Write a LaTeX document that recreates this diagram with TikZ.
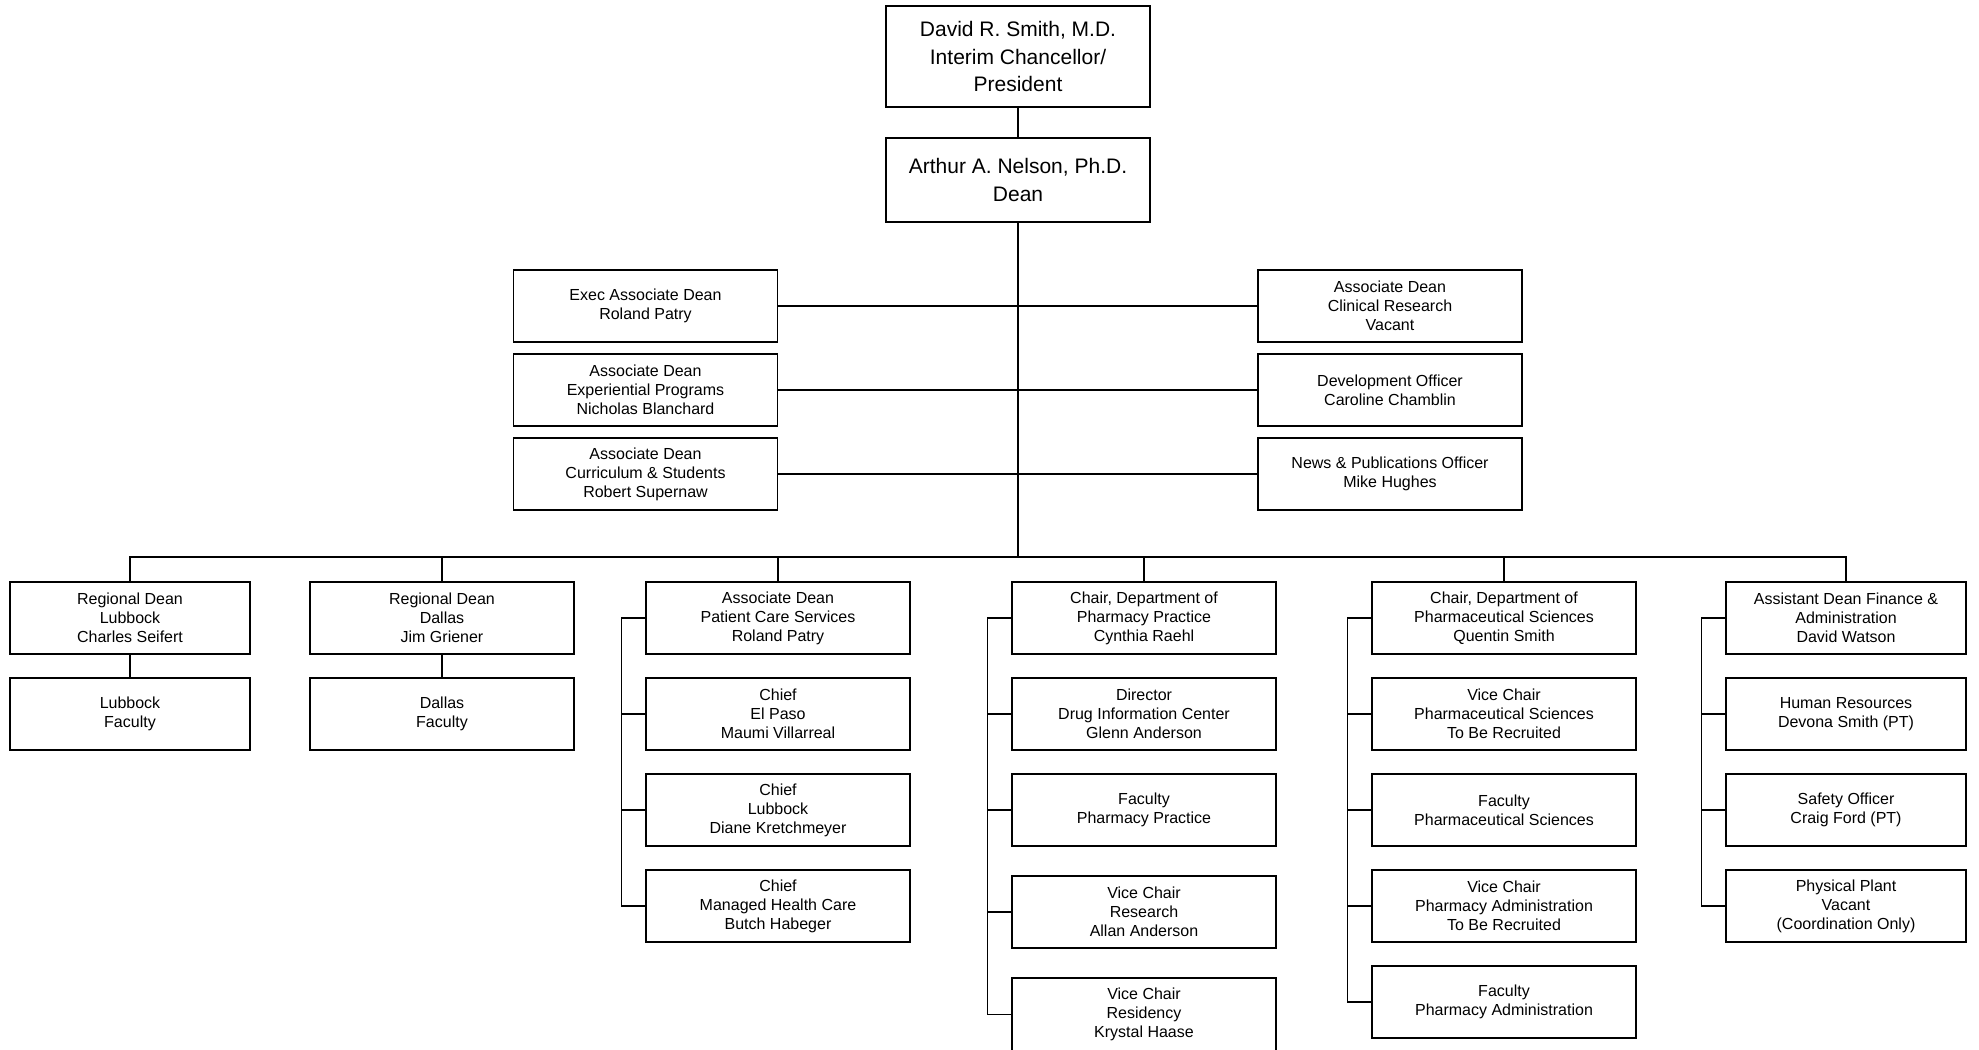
\documentclass[tikz,border=0pt]{standalone}
\usepackage{fontspec}
\setmainfont{Liberation Sans}
\begin{document}
\begin{tikzpicture}[x=0.5pt,y=-0.5pt,
  box/.style={draw, line width=0.6pt, align=center, inner sep=0pt, minimum width=132pt, minimum height=36pt, font=\fontsize{8}{9.5}\selectfont},
  narrow/.style={box, minimum width=120pt},
  big/.style={box, font=\fontsize{10.5}{13.9}\selectfont},
  link/.style={line width=0.6pt}]
\useasboundingbox (0,0) rectangle (1979,1049);
\node[big, minimum height=50.5pt] (pres) at (1018,56.5) {David R. Smith, M.D.\\Interim Chancellor/\\President};
\node[big, minimum height=42pt] (dean) at (1018,180) {Arthur A. Nelson, Ph.D.\\Dean};
\node[box] (exec) at (645.5,306) {Exec Associate Dean\\Roland Patry};
\node[box] (exper) at (645.5,390) {Associate Dean\\Experiential Programs\\Nicholas Blanchard};
\node[box] (curr) at (645.5,474) {Associate Dean\\Curriculum \& Students\\Robert Supernaw};
\node[box] (clin) at (1390,306) {Associate Dean\\Clinical Research\\Vacant};
\node[box] (devel) at (1390,390) {Development Officer\\Caroline Chamblin};
\node[box] (news) at (1390,474) {News \& Publications Officer\\Mike Hughes};
\coordinate (bus) at (1018,557);
\node[narrow] (rdl) at (130,618) {Regional Dean\\Lubbock\\Charles Seifert};
\node[narrow] (facl) at (130,714) {Lubbock\\Faculty};
\node[box] (rdd) at (442,618) {Regional Dean\\Dallas\\Jim Griener};
\node[box] (facd) at (442,714) {Dallas\\Faculty};
\node[box] (pcs) at (778,618) {Associate Dean\\Patient Care Services\\Roland Patry};
\node[box] (chep) at (778,714) {Chief\\El Paso\\Maumi Villarreal};
\node[box] (chlb) at (778,810) {Chief\\Lubbock\\Diane Kretchmeyer};
\node[box] (chmh) at (778,906) {Chief\\Managed Health Care\\Butch Habeger};
\node[box] (ppr) at (1144,618) {Chair, Department of\\Pharmacy Practice\\Cynthia Raehl};
\node[box] (dic) at (1144,714) {Director\\Drug Information Center\\Glenn Anderson};
\node[box] (facpp) at (1144,810) {Faculty\\Pharmacy Practice};
\node[box] (vcres) at (1144,912) {Vice Chair\\Research\\Allan Anderson};
\node[box, minimum height=36.5pt] (vcresi) at (1144,1014.5) {Vice Chair\\Residency\\Krystal Haase};
\node[box] (psc) at (1504,618) {Chair, Department of\\Pharmaceutical Sciences\\Quentin Smith};
\node[box] (vcps) at (1504,714) {Vice Chair\\Pharmaceutical Sciences\\To Be Recruited};
\node[box] (facps) at (1504,810) {Faculty\\Pharmaceutical Sciences};
\node[box] (vcpa) at (1504,906) {Vice Chair\\Pharmacy Administration\\To Be Recruited};
\node[box] (facpa) at (1504,1002) {Faculty\\Pharmacy Administration};
\node[narrow] (fin) at (1846,618) {Assistant Dean Finance \&\\Administration\\David Watson};
\node[narrow] (hr) at (1846,714) {Human Resources\\Devona Smith (PT)};
\node[narrow] (safe) at (1846,810) {Safety Officer\\Craig Ford (PT)};
\node[narrow] (plant) at (1846,906) {Physical Plant\\Vacant\\(Coordination Only)};
\draw[link] (pres) -- (dean);
\draw[link] (dean) -- (bus);
\draw[link] (exec) -- (clin);
\draw[link] (exper) -- (devel);
\draw[link] (curr) -- (news);
\draw[link] (rdl.north) -- (rdl.north |- bus) -- (fin.north |- bus) -- (fin.north);
\foreach \n in {rdd,pcs,ppr,psc}
  \draw[link] (\n.north) -- (\n.north |- bus);
\draw[link] (rdl) -- (facl);
\draw[link] (rdd) -- (facd);
\draw[link] ([xshift=-12pt]pcs.west) -- ([xshift=-12pt]chmh.west);
\foreach \n in {pcs,chep,chlb,chmh}
  \draw[link] ([xshift=-12pt]\n.west) -- (\n.west);
\draw[link] ([xshift=-12pt]ppr.west) -- ([xshift=-12pt]vcresi.west);
\foreach \n in {ppr,dic,facpp,vcres,vcresi}
  \draw[link] ([xshift=-12pt]\n.west) -- (\n.west);
\draw[link] ([xshift=-12pt]psc.west) -- ([xshift=-12pt]facpa.west);
\foreach \n in {psc,vcps,facps,vcpa,facpa}
  \draw[link] ([xshift=-12pt]\n.west) -- (\n.west);
\draw[link] ([xshift=-12pt]fin.west) -- ([xshift=-12pt]plant.west);
\foreach \n in {fin,hr,safe,plant}
  \draw[link] ([xshift=-12pt]\n.west) -- (\n.west);
\end{tikzpicture}
\end{document}
